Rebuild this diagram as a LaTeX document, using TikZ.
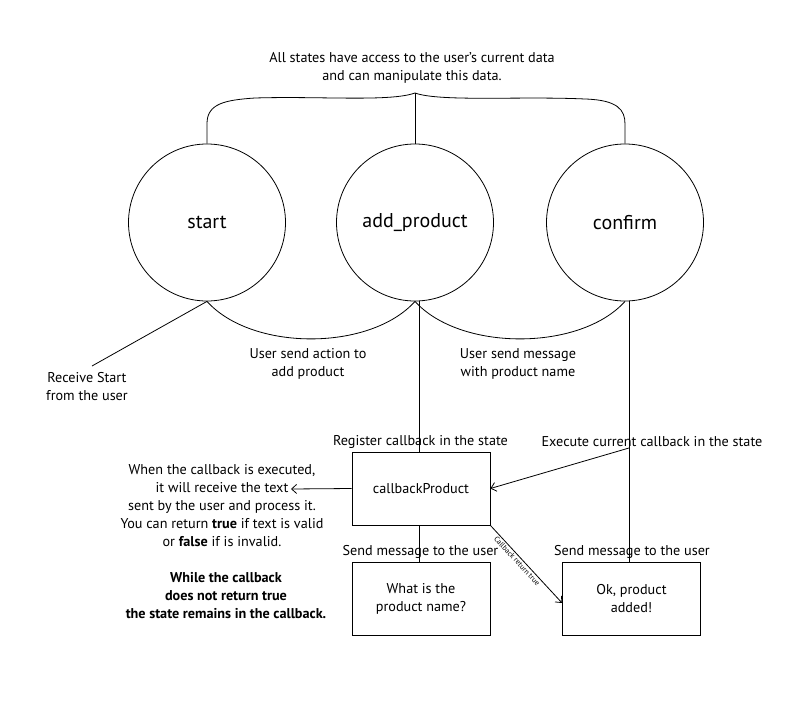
\documentclass[tikz,border=0pt]{standalone}
\usepackage{fontspec}
\setmainfont{PT Sans}
\usetikzlibrary{arrows.meta,calc}
\begin{document}
\begin{tikzpicture}[x=1pt,y=-1pt,line width=0.8pt,
  txt/.style={font=\fontsize{14.2}{18}\selectfont, align=center, inner sep=0pt},
  state/.style={draw, circle, minimum size=157pt, inner sep=0pt, font=\fontsize{20}{22}\selectfont},
  box/.style={draw, rectangle, minimum width=138pt, minimum height=73pt, inner sep=0pt, align=center, font=\fontsize{14.2}{18}\selectfont},
  arr/.style={-{Straight Barb[length=5pt,width=9pt]}}]
\useasboundingbox (0,0) rectangle (809,709);

% states
\node[state] (start) at (207,222.5) {start};
\node[state] (addp) at (415,222.5) {add\_product};
\node[state] (confirm) at (625,222.5) {confirm};

% top note and brace
\node[txt] (note) at (412,68) {All states have access to the user’s current data\\and can manipulate this data.};
\coordinate (peak) at (415,93);
\draw (start.north) -- ++(0,-20) .. controls ++(0,-20) and (225,100) .. (255,98)
      .. controls (320,96) and (390,102) .. (peak)
      .. controls (440,102) and (520,96) .. (585,99)
      .. controls (618,100) and (625,110) .. (625,124) -- (confirm.north);
\draw (peak) -- (addp.north);

% bottom arcs
\draw (start.south) .. controls ++(45,50) and ++(-45,50) .. (addp.south);
\draw (addp.south) .. controls ++(45,50) and ++(-45,50) .. (confirm.south);
\coordinate (rs) at (92,366);
\draw (start.south) -- (rs);
\node[txt] (receive) at (87,387) {Receive Start\\from the user};
\node[txt] (action) at (308,364) {User send action to\\add product};
\node[txt] (message) at (518,364) {User send message\\with product name};

% boxes
\node[box] (cbp) at (421,488.5) {callbackProduct};
\node[box] (ask) at (421,598.5) {What is the\\product name?};
\node[box] (ok) at (631.5,598.5) {Ok, product\\added!};

\coordinate (ctop) at (629,301);
\coordinate (cexec) at (629,448);
\coordinate (vtop) at (419,301);
\draw (vtop) -- (cbp.north -| vtop);
\draw (ctop) -- (ok.north -| ctop);
\draw (cbp.south -| vtop) -- (ask.north -| vtop);

\node[txt] (reg) at (420.5,442) {Register callback in the state};
\node[txt] (exec) at (652,442) {Execute current callback in the state};
\node[txt] (send1) at (420.5,552) {Send message to the user};
\node[txt] (send2) at (632,552) {Send message to the user};

\draw[arr] (cexec) -- (cbp.east);
\draw[arr] (cbp.south east) -- (ok.west |- 0,603)
  node[pos=0.42, sloped, below=1.5pt, font=\fontsize{7.5}{8}\selectfont, inner sep=0pt] {Callback return true};

% left notes
\node[txt] (when) at (222,506) {When the callback is executed,\\it will receive the text\\sent by the user and process it.\\You can return \textbf{true} if text is valid\\or \textbf{false} if is invalid.};
\coordinate (textend) at (291,489);
\draw[arr] (cbp.west) -- (textend);
\node[txt, font=\bfseries\fontsize{14.2}{18}\selectfont] (while) at (226,596) {While the callback\\does not return true\\the state remains in the callback.};
\end{tikzpicture}
\end{document}
